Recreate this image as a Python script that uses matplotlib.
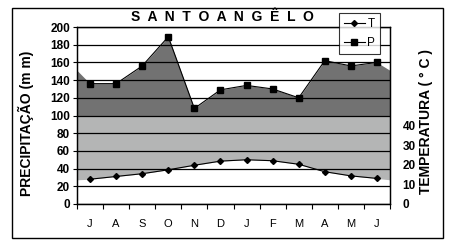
import numpy as np
import matplotlib.pyplot as plt
from matplotlib.lines import Line2D
from matplotlib.patches import Rectangle

# monthly climate data, Santo Angelo (July -> June)
months = ['J', 'A', 'S', 'O', 'N', 'D', 'J', 'F', 'M', 'A', 'M', 'J']
precip = [136, 136, 156, 189, 108, 129, 134, 130, 120, 162, 156, 160]
temp = [12.6, 14.0, 15.4, 17.4, 19.7, 21.8, 22.5, 22.0, 20.2, 16.4, 14.3, 13.0]
# values of the shaded areas at the left and right borders of the plot
precip_edge = [151, 151]
temp_edge = [12.3, 12.3]

P_MAX = 200
T_MAX = 90
scale = P_MAX / T_MAX

plt.rcParams['font.family'] = ['Liberation Sans', 'DejaVu Sans']

fig = plt.figure(figsize=(4.5, 2.42), dpi=100)
ax = fig.add_axes([77 / 450, 1 - 204 / 242, 313 / 450, 177 / 242])
ax2 = ax.twinx()

x = np.arange(len(months))
x_area = np.concatenate([[-0.5], x, [11.5]])
p_area = np.array([precip_edge[0]] + precip + [precip_edge[1]])
t_area = np.array([temp_edge[0]] + temp + [temp_edge[1]]) * scale

# shaded areas
ax.fill_between(x_area, 100, p_area, color='#727272', lw=0, zorder=1)
ax.fill_between(x_area, t_area, 100, color='#b4b5b5', lw=0, zorder=1)

ax.plot(x, precip, color='black', lw=0.8, marker='s', ms=4.5, zorder=4)
ax2.plot(x, temp, color='black', lw=0.8, marker='D', ms=3, zorder=4)

ax.set_xlim(-0.5, 11.5)
ax.set_ylim(0, P_MAX)
ax2.set_ylim(0, T_MAX)

ax.set_yticks(range(0, 201, 20))
ax.grid(axis='y', color='black', lw=0.9)
ax.set_axisbelow(False)
ax.set_xticks(x)
ax.set_xticklabels(months, fontsize=8)
ax.set_xticks(np.arange(-0.5, 12, 1), minor=True)
ax.tick_params(axis='x', which='major', length=0, pad=11)
ax.tick_params(axis='x', which='minor', length=3.5, width=0.8, direction='out')
ax.tick_params(axis='y', length=3, width=0.8, pad=2, labelsize=8.5)
for lab in ax.get_yticklabels():
    lab.set_fontweight('bold')

ax2.set_yticks(range(0, 41, 10))
ax2.tick_params(axis='y', length=0, pad=9, labelsize=8.5)
for lab in ax2.get_yticklabels():
    lab.set_fontweight('bold')

for a in (ax, ax2):
    for s in a.spines.values():
        s.set_color('black')
        s.set_linewidth(0.9)

fig.text(26 / 450, 1 - 123 / 242, 'PRECIPITAÇÃO (m m)', rotation=90,
         fontsize=10, fontweight='bold', ha='center', va='center')
fig.text(426 / 450, 1 - 122 / 242, 'TEMPERATURA ( ° C )', rotation=90,
         fontsize=10, fontweight='bold', ha='center', va='center')

fig.text(222 / 450, 1 - 17 / 242, 'S  A  N  T  O  A  N  G  Ê  L  O',
         fontsize=10, fontweight='bold', ha='center', va='center')

handles = [Line2D([], [], color='black', lw=0.8, marker='D', ms=3),
           Line2D([], [], color='black', lw=0.8, marker='s', ms=4.5)]
leg = ax2.legend(handles, ['T', 'P'], loc='upper left',
                 bbox_to_anchor=(339 / 450, 1 - 13 / 242), bbox_transform=fig.transFigure,
                 fontsize=8.5, frameon=True, fancybox=False, handlelength=1.8,
                 handletextpad=0.2, borderpad=0.4, labelspacing=0.6, borderaxespad=0)
leg.get_frame().set_edgecolor('black')
leg.get_frame().set_linewidth(0.8)
leg.set_zorder(10)

fig.patches.append(Rectangle((12 / 450, 1 - 238 / 242), 431 / 450, 230 / 242,
                             transform=fig.transFigure, fill=False,
                             edgecolor='black', lw=1))

fig.savefig('out.png', dpi=100)
